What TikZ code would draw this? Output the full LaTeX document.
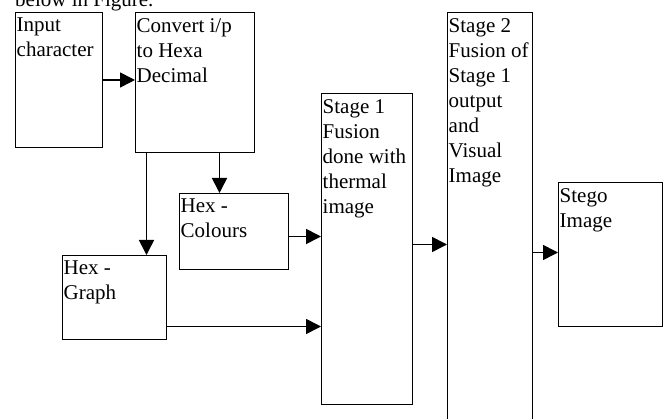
\documentclass[tikz,border=0pt]{standalone}
\usepackage{fontspec}
\setmainfont{Liberation Serif}
\usetikzlibrary{arrows.meta}

\tikzset{
  box/.style={draw, line width=1pt, anchor=north west, inner sep=0pt},
  boxtext/.style={anchor=north west, inner xsep=1.5pt, inner ysep=6pt, align=left, font=\fontsize{21}{25}\selectfont},
  flow/.style={line width=1.6pt, -{Triangle[length=15pt,width=15pt]}}
}

\begin{document}
\begin{tikzpicture}[x=1pt, y=-1pt]

\useasboundingbox (0,0) rectangle (664,419);
\clip (0,0) rectangle (664,419);

\node[anchor=base west, inner sep=0pt, font=\fontsize{21}{25}\selectfont] (caption) at (15,7) {below in Figure.};

\node[box, minimum width=87pt, minimum height=135pt, label={[boxtext]north west:{Input\\character}}] (input) at (15,12) {};
\node[box, minimum width=119pt, minimum height=140pt, label={[boxtext]north west:{Convert i/p\\to Hexa\\Decimal}}] (convert) at (135,12) {};
\node[box, minimum width=109pt, minimum height=76pt, label={[boxtext]north west:{Hex -\\Colours}}] (colours) at (179,193) {};
\node[box, minimum width=104pt, minimum height=84pt, label={[boxtext]north west:{Hex -\\Graph}}] (graph) at (62,255) {};
\node[box, minimum width=91pt, minimum height=311pt, label={[boxtext]north west:{Stage 1\\Fusion\\done with\\thermal\\image}}] (stage1) at (321,93) {};
\node[box, minimum width=85pt, minimum height=430pt, label={[boxtext]north west:{Stage 2\\Fusion of\\Stage 1\\output\\and\\Visual\\Image}}] (stage2) at (447,12) {};
\node[box, minimum width=104pt, minimum height=144pt, label={[boxtext]north west:{Stego\\Image}}] (stego) at (558,182) {};

\draw[flow] (input.east) -- (input.east -| convert.west);
\draw[flow] ([xshift=-14.5pt]colours.north |- convert.south) -- ([xshift=-14.5pt]colours.north);
\draw[flow] ([xshift=32pt]graph.north |- convert.south) -- ([xshift=32pt]graph.north);

\draw[flow] ([yshift=-5pt]colours.east) -- ([yshift=-5pt]colours.east -| stage1.west);
\draw[flow] ([yshift=-29pt]graph.east) -- ([yshift=-29pt]graph.east -| stage1.west);
\draw[flow] ([yshift=4.5pt]stage1.east) -- ([yshift=4.5pt]stage1.east -| stage2.west);
\draw[flow] ([yshift=2pt]stego.west -| stage2.east) -- ([yshift=2pt]stego.west);

\end{tikzpicture}
\end{document}
